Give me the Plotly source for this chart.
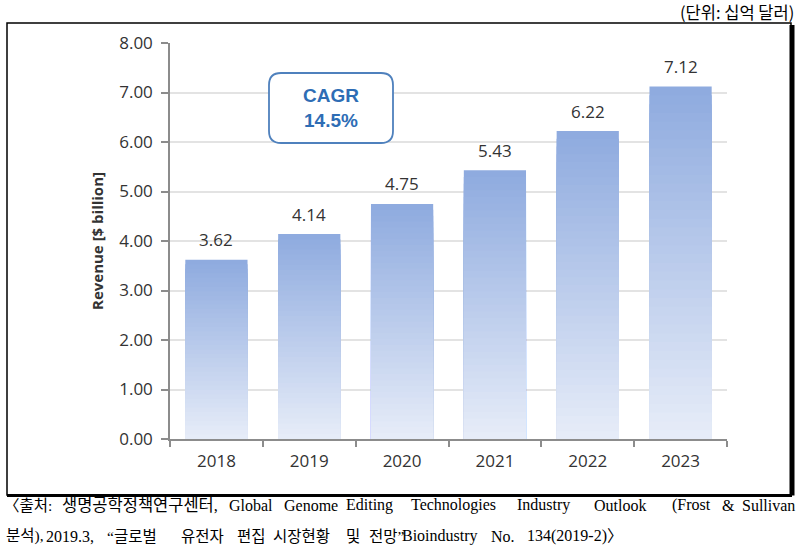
import plotly.graph_objects as go

years = ["2018", "2019", "2020", "2021", "2022", "2023"]
revenue = [3.62, 4.14, 4.75, 5.43, 6.22, 7.12]
y_ticks = [0, 1, 2, 3, 4, 5, 6, 7, 8]
y_tick_labels = ["0.00", "1.00", "2.00", "3.00", "4.00", "5.00", "6.00", "7.00", "8.00"]
cagr_text = "<b>CAGR<br>14.5%</b>"
unit_text = "(단위: 십억 달러)"
source_line1_words = ["〈출처:", "생명공학정책연구센터,", "Global", "Genome", "Editing", "Technologies",
                      "Industry", "Outlook", "(Frost", "&amp;", "Sullivan"]
source_line2_words = ["분석),", "2019.3,", "“글로벌", "유전자", "편집", "시장현황", "및", "전망”",
                      "Bioindustry", "No.", "134(2019-2)〉"]

W, H = 798, 552
L, R, T, B = 170, 71, 43, 113
pw, ph = W - L - R, H - T - B


def px2paper(x, y):
    return (x - L) / pw, (H - B - y) / ph


top_rgb = (143, 171, 223)
bot_rgb = (230, 236, 248)
N = 40

fig = go.Figure()
for k in range(N):
    t = k / (N - 1)
    c = tuple(round(top_rgb[i] + (bot_rgb[i] - top_rgb[i]) * t) for i in range(3))
    frac = (N - k) / N
    fig.add_trace(go.Bar(
        x=years,
        y=[v * frac for v in revenue],
        marker=dict(color="rgb(%d,%d,%d)" % c, line=dict(width=0)),
        showlegend=False,
        hoverinfo="skip" if k else "x+y",
    ))

shapes = []
# outer border
x0, y0 = px2paper(7, 23)
x1, y1 = px2paper(791, 495)
shapes.append(dict(type="rect", xref="paper", yref="paper", x0=x0, y0=y1, x1=x1, y1=y0,
                   line=dict(color="black", width=1.5), fillcolor="rgba(0,0,0,0)", layer="below"))
xr, _ = px2paper(792, 0)
_, yb = px2paper(0, 495.5)
shapes.append(dict(type="line", xref="paper", yref="paper", x0=xr, x1=xr, y0=yb, y1=y0 - 0.005,
                   line=dict(color="black", width=5)))
shapes.append(dict(type="line", xref="paper", yref="paper", x0=x0, x1=xr, y0=yb, y1=yb,
                   line=dict(color="black", width=3)))

# rounded CAGR box
bx0, by0, bx1, by1, r = 269, 73, 393, 143, 12


def P(x, y):
    a, b = px2paper(x, y)
    return f"{a:.5f},{b:.5f}"


path = (f"M {P(bx0 + r, by0)} L {P(bx1 - r, by0)} Q {P(bx1, by0)} {P(bx1, by0 + r)} "
        f"L {P(bx1, by1 - r)} Q {P(bx1, by1)} {P(bx1 - r, by1)} "
        f"L {P(bx0 + r, by1)} Q {P(bx0, by1)} {P(bx0, by1 - r)} "
        f"L {P(bx0, by0 + r)} Q {P(bx0, by0)} {P(bx0 + r, by0)} Z")
shapes.append(dict(type="path", xref="paper", yref="paper", path=path,
                   line=dict(color="#4f81bd", width=1.8), fillcolor="white"))

cx, cy = px2paper((bx0 + bx1) / 2, (by0 + by1) / 2)
ux, uy = px2paper(796, 12)
kfont = "Noto Sans CJK KR, sans-serif"
lfont = "Liberation Serif, Noto Sans CJK KR, serif"

annotations = [
    dict(x=cx, y=cy, xref="paper", yref="paper", text=cagr_text, showarrow=False,
         xanchor="center", yanchor="middle",
         font=dict(family="Liberation Sans, Arial, sans-serif", size=19, color="#2e6db5"),
         align="center"),
    dict(x=ux, y=uy, xref="paper", yref="paper", text=unit_text, showarrow=False,
         xanchor="right", yanchor="middle", font=dict(family=kfont, size=16.5, color="black")),
]

# value labels above bars (x given as category index)
for i, v in enumerate(revenue):
    annotations.append(dict(x=i, y=v, xref="x", yref="y", text=f"{v:.2f}", showarrow=False,
                            xanchor="center", yanchor="middle", yshift=20,
                            font=dict(family="Open Sans, Liberation Sans, sans-serif", size=17,
                                      color="#333333")))


def is_hangul_word(w):
    return any('\uac00' <= ch <= '\ud7a3' for ch in w)


# source lines, word positions (justified text)
line1_x = [2, 60, 227, 282, 344, 409, 515, 592, 670, 720, 797]
line2_x = [4, 44, 105, 179, 235, 271, 344, 367, 400, 489, 525]
for li, (words, xs, ypx) in enumerate(((source_line1_words, line1_x, 505),
                                       (source_line2_words, line2_x, 536))):
    for wi, (w, xpx) in enumerate(zip(words, xs)):
        ax, ay = px2paper(xpx, ypx)
        if is_hangul_word(w):
            size = 16.5 if (li == 0 and wi == 1) else 15.5
        else:
            size = 16
        last = (li == 0 and wi == len(words) - 1)
        annotations.append(dict(x=ax, y=ay, xref="paper", yref="paper", text=w, showarrow=False,
                                xanchor="right" if last else "left", yanchor="middle",
                                font=dict(family=lfont, size=size, color="black")))

fig.update_layout(
    width=W, height=H,
    margin=dict(l=L, r=R, t=T, b=B, pad=0),
    paper_bgcolor="white", plot_bgcolor="white",
    barmode="overlay", bargap=0.33,
    shapes=shapes, annotations=annotations,
    font=dict(family="Open Sans, Liberation Sans, sans-serif", color="#333333"),
)
fig.update_xaxes(
    type="category", categoryorder="array", categoryarray=years,
    showline=True, linecolor="#8c8c8c", linewidth=1.5,
    ticks="outside", tickson="boundaries", ticklen=6, tickcolor="#8c8c8c", tickwidth=1.5,
    tickfont=dict(size=17, color="#333333"), ticklabelstandoff=6, showgrid=False,
)
fig.update_yaxes(
    range=[0, 8], tickvals=y_ticks, ticktext=y_tick_labels,
    showline=True, linecolor="#8c8c8c", linewidth=1.5,
    ticks="outside", ticklen=7, tickcolor="#8c8c8c", tickwidth=1.5,
    tickfont=dict(size=17, color="#333333"), ticklabelstandoff=5,
    showgrid=True, gridcolor="#e3e3e3", gridwidth=1.5, zeroline=False,
    title=dict(text="<b>Revenue [$ billion]</b>", font=dict(size=15, color="#333333"), standoff=12),
)

fig.write_html("out.html", config={"displayModeBar": False},
               post_script="document.body.style.margin='0px';")
